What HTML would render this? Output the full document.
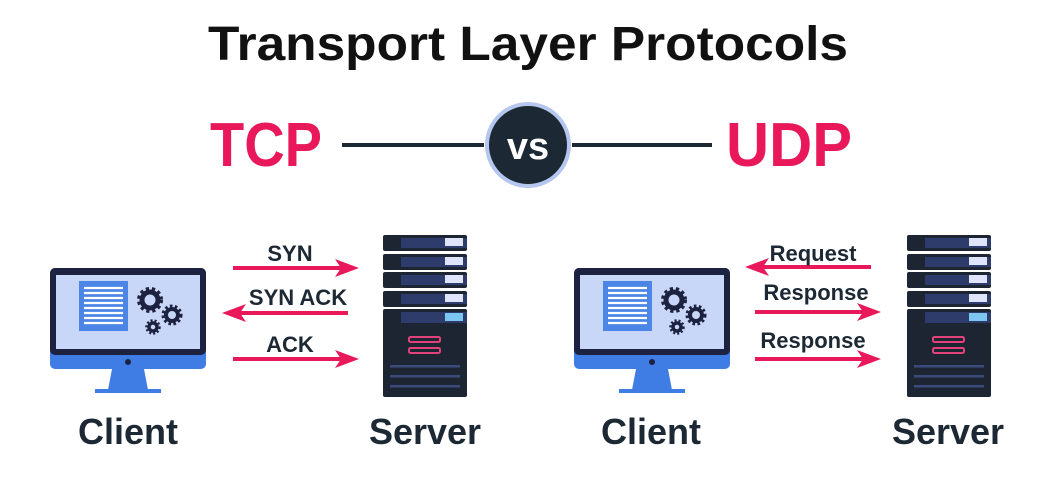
<!DOCTYPE html>
<html><head><meta charset="utf-8"><style>
html,body{margin:0;padding:0;background:#fff;}
svg{display:block;}
text{font-family:"Liberation Sans",sans-serif;font-weight:bold;}
</style></head><body>
<svg width="1056" height="484" viewBox="0 0 1056 484" xmlns="http://www.w3.org/2000/svg">
<defs>
<g id="mon">
  <rect x="0" y="0" width="156" height="101" rx="5" fill="#3f7ce3"/>
  <rect x="0" y="0" width="156" height="87" rx="5" fill="#1d2240"/>
  <rect x="6" y="7" width="144" height="74" fill="#c8d7f8"/>
  <rect x="29" y="13" width="49" height="50" fill="#4b86e6"/>
  <g stroke="#fff" stroke-width="2.2">
    <line x1="34" y1="20" x2="73" y2="20"/><line x1="34" y1="25" x2="73" y2="25"/>
    <line x1="34" y1="30" x2="73" y2="30"/><line x1="34" y1="35" x2="73" y2="35"/>
    <line x1="34" y1="40" x2="73" y2="40"/><line x1="34" y1="45" x2="73" y2="45"/>
    <line x1="34" y1="50" x2="73" y2="50"/><line x1="34" y1="55" x2="73" y2="55"/>
  </g>
  <g fill="none" stroke="#1d2240">
    <circle cx="100" cy="32" r="8" stroke-width="5"/>
    <circle cx="100" cy="32" r="11.5" stroke-width="3" stroke-dasharray="3.2 3"/>
    <circle cx="122" cy="47" r="6" stroke-width="4"/>
    <circle cx="122" cy="47" r="9" stroke-width="3" stroke-dasharray="2.6 2.4"/>
    <circle cx="103" cy="59" r="4" stroke-width="3.5"/>
    <circle cx="103" cy="59" r="6.5" stroke-width="2.5" stroke-dasharray="2 2"/>
  </g>
  <circle cx="78" cy="94" r="3" fill="#1d2240"/>
  <polygon points="62,101 94,101 98,122 58,122" fill="#3f7ce3"/>
  <rect x="45" y="121" width="66" height="4" fill="#3f7ce3"/>
</g>
<g id="srv">
  <rect x="0" y="0" width="84" height="16" rx="2" fill="#1e2532"/><rect x="18" y="3" width="66" height="10" fill="#2d3c6a"/><rect x="62" y="3" width="18" height="8" fill="#dfe4fb"/>
  <rect x="0" y="19" width="84" height="16" rx="2" fill="#1e2532"/><rect x="18" y="22" width="66" height="10" fill="#2d3c6a"/><rect x="62" y="22" width="18" height="8" fill="#dfe4fb"/>
  <rect x="0" y="37" width="84" height="16" rx="2" fill="#1e2532"/><rect x="18" y="40" width="66" height="10" fill="#2d3c6a"/><rect x="62" y="40" width="18" height="8" fill="#dfe4fb"/>
  <rect x="0" y="56" width="84" height="16" rx="2" fill="#1e2532"/><rect x="18" y="59" width="66" height="10" fill="#2d3c6a"/><rect x="62" y="59" width="18" height="8" fill="#dfe4fb"/>
  <rect x="0" y="74" width="84" height="88" rx="2" fill="#1e2532"/><rect x="18" y="77" width="66" height="11" fill="#2d3c6a"/><rect x="62" y="78" width="18" height="8" fill="#7cc6f2"/>
  <rect x="26" y="102" width="31" height="5" rx="1.5" fill="none" stroke="#e2417a" stroke-width="2"/>
  <rect x="26" y="113" width="31" height="5" rx="1.5" fill="none" stroke="#e2417a" stroke-width="2"/>
  <rect x="7" y="130" width="70" height="2.5" fill="#3a4a7a"/>
  <rect x="7" y="140" width="70" height="2.5" fill="#3a4a7a"/>
  <rect x="7" y="150" width="70" height="2.5" fill="#3a4a7a"/>
</g>
<g id="ar"><rect x="0" y="-2" width="115" height="4" fill="#e8185a"/><polygon points="102,-9 126,0 102,9 108,0" fill="#e8185a"/></g>
</defs>

<text x="528" y="60" text-anchor="middle" font-size="48" fill="#111" textLength="640" lengthAdjust="spacingAndGlyphs">Transport Layer Protocols</text>

<text x="210" y="166" font-size="62" fill="#e8185a" textLength="112" lengthAdjust="spacingAndGlyphs">TCP</text>
<text x="726" y="166" font-size="62" fill="#e8185a" textLength="126" lengthAdjust="spacingAndGlyphs">UDP</text>
<rect x="342" y="143" width="142" height="4" fill="#1c2833"/>
<rect x="572" y="143" width="140" height="4" fill="#1c2833"/>
<circle cx="528" cy="145" r="41" fill="#1c2833" stroke="#b5c7ef" stroke-width="4"/>
<text x="528" y="159" text-anchor="middle" font-size="38" fill="#fff">vs</text>

<use href="#mon" x="50" y="268"/>
<use href="#srv" x="383" y="235"/>
<use href="#mon" x="574" y="268"/>
<use href="#srv" x="907" y="235"/>

<use href="#ar" x="233" y="268"/>
<use href="#ar" transform="translate(348,313) scale(-1,1)"/>
<use href="#ar" x="233" y="359"/>
<use href="#ar" transform="translate(871,267) scale(-1,1)"/>
<use href="#ar" x="755" y="312"/>
<use href="#ar" x="755" y="359"/>

<g font-size="22" fill="#1c2833" text-anchor="middle">
<text x="290" y="261">SYN</text>
<text x="298" y="305">SYN ACK</text>
<text x="290" y="352">ACK</text>
<text x="813" y="261">Request</text>
<text x="816" y="300">Response</text>
<text x="813" y="348">Response</text>
</g>
<g font-size="36" fill="#1c2833" text-anchor="middle">
<text x="128" y="444">Client</text>
<text x="425" y="444">Server</text>
<text x="651" y="444">Client</text>
<text x="948" y="444">Server</text>
</g>
</svg>
</body></html>
